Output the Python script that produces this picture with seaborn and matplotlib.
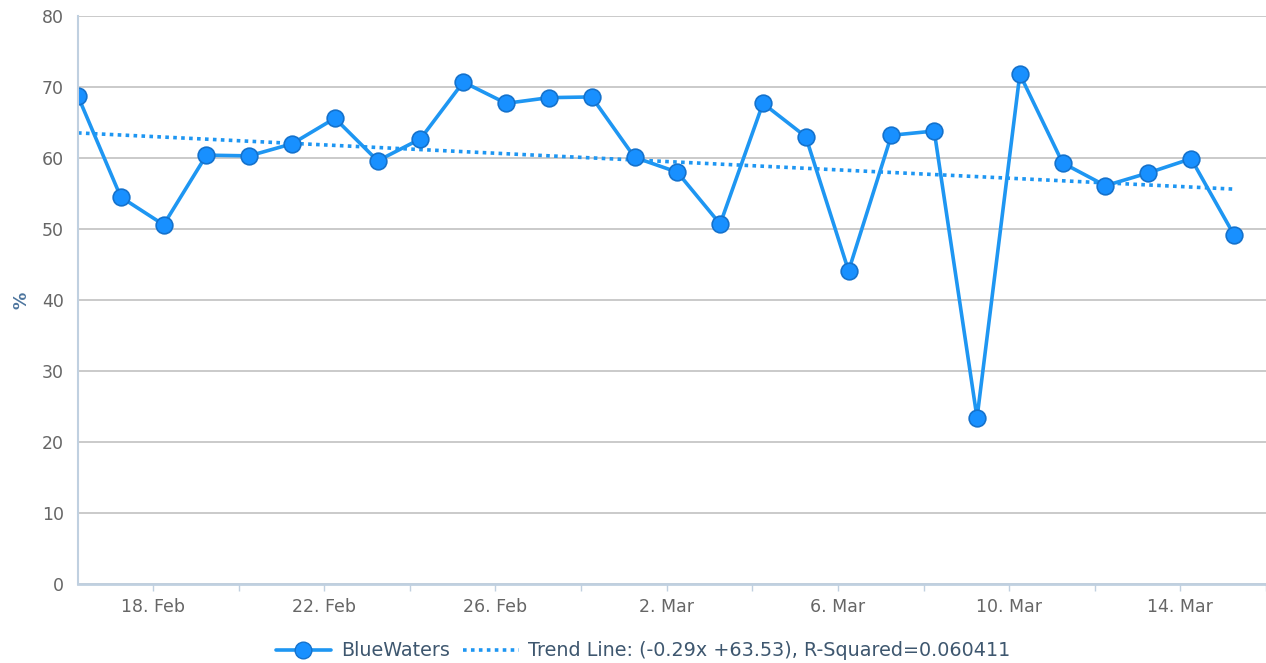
import pandas as pd
import numpy as np
import matplotlib
matplotlib.use('Agg')
import matplotlib.pyplot as plt
import matplotlib.dates as mdates
from matplotlib.lines import Line2D
import seaborn as sns

sns.set_style('white')
plt.rcParams['font.family'] = ['DejaVu Sans']

# daily readings, first point at 16 Feb (06:00)
start = '2015-02-16 06:00'
bluewaters = [68.7, 54.5, 50.6, 60.4, 60.3, 62.0, 65.6, 59.6, 62.7, 70.7,
              67.7, 68.5, 68.6, 60.1, 58.0, 50.7, 67.7, 63.0, 44.1, 63.2,
              63.8, 23.4, 71.8, 59.3, 56.1, 57.9, 59.9, 49.2]
label_dates = ['2015-02-18', '2015-02-22', '2015-02-26', '2015-03-02',
               '2015-03-06', '2015-03-10', '2015-03-14']
label_texts = ['18. Feb', '22. Feb', '26. Feb', '2. Mar', '6. Mar', '10. Mar', '14. Mar']
legend_trend = 'Trend Line: (-0.29x +63.53), R-Squared=0.060411'

dates = pd.date_range(start, periods=len(bluewaters), freq='D')
df = pd.DataFrame({'x': mdates.date2num(dates), 'y': bluewaters})

line_c = '#1e96f2'
fig = plt.figure(figsize=(12.66, 6.63), dpi=100)
ax = fig.add_axes([78 / 1266, 1 - 584 / 663, 1 - 78 / 1266, (584 - 16) / 663])

ax.set_axisbelow(True)
ax.yaxis.grid(True, color='#c6c6c6', lw=1.3)

sns.regplot(data=df, x='x', y='y', ax=ax, scatter=False, ci=None,
            line_kws=dict(color=line_c, lw=2.6, linestyle=(0, (1, 1.2))))
sns.lineplot(data=df, x='x', y='y', ax=ax, color=line_c, lw=2.6,
             marker='o', markersize=12, markerfacecolor='#1890ff',
             markeredgecolor='#1572cc', markeredgewidth=1.2)

x0 = df['x'].iloc[0]
ax.set_xlim(x0, x0 + 27.67)
ax.set_ylim(0, 80)
ax.set_yticks(range(0, 81, 10))

ticks = mdates.date2num(pd.to_datetime(label_dates))
ax.set_xticks(ticks)
ax.set_xticklabels(label_texts)
ax.set_xticks(ticks + 2, minor=True)
ax.tick_params(axis='x', which='both', length=5, width=1, color='#c0d0e0',
               direction='out', bottom=True, labelsize=12.5, labelcolor='#666666', pad=5)
ax.tick_params(axis='y', length=0, labelsize=12.5, labelcolor='#666666', pad=10)

for s in ['top', 'right']:
    ax.spines[s].set_visible(False)
ax.spines['left'].set_color('#c0d0e0')
ax.spines['left'].set_linewidth(1.5)
ax.spines['bottom'].set_color('#c0d0e0')
ax.spines['bottom'].set_linewidth(2)

ax.set_xlabel('')
ax.set_ylabel('%', color='#4d759e', fontsize=12.5, fontweight='bold', labelpad=8)

handles = [
    Line2D([], [], color=line_c, lw=2.6, marker='o', markersize=12,
           markerfacecolor='#1890ff', markeredgecolor='#1572cc'),
    Line2D([], [], color=line_c, lw=2.6, linestyle=(0, (1, 1.2))),
]
fig.legend(handles, ['BlueWaters', legend_trend], loc='center',
           bbox_to_anchor=(0.508, 1 - 651 / 663), ncol=2, frameon=False,
           fontsize=13.8, labelcolor='#3e576f', handlelength=2.9,
           columnspacing=0.7, handletextpad=0.5)

fig.savefig('out.png', dpi=100)
